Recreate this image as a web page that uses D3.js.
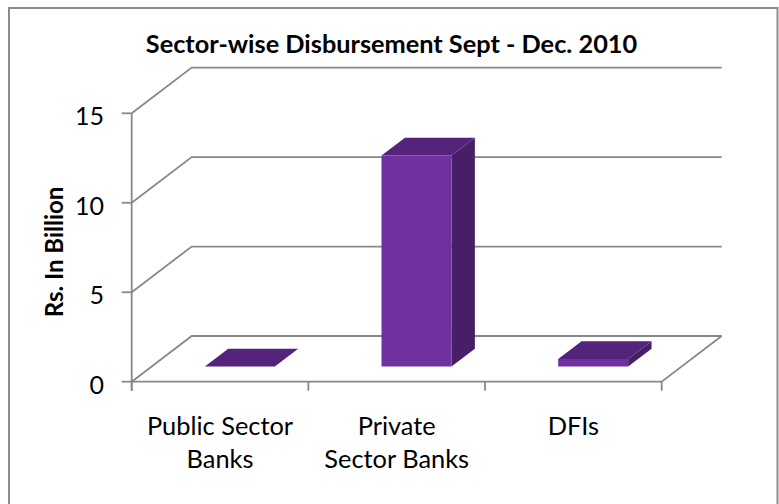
<!DOCTYPE html>
<html>
<head>
<meta charset="utf-8">
<script src="https://cdn.jsdelivr.net/npm/d3@7"></script>
<style>
  html, body { margin: 0; padding: 0; background: #fff; }
  svg { display: block; }
  text { font-family: Lato, "Noto Sans", sans-serif; fill: #000; }
</style>
</head>
<body>
<svg id="chart" width="779" height="504"></svg>
<script>
// Sector-wise disbursement, Sept - Dec. 2010 (Rs. in billion)
const categories = ["Public Sector Banks", "Private Sector Banks", "DFIs"];
const categoryLines = [["Public Sector", "Banks"], ["Private", "Sector Banks"], ["DFIs"]];
const values = [0, 11.8, 0.42];
const yTicks = [0, 5, 10, 15];
const chartTitle = "Sector-wise Disbursement Sept - Dec. 2010";
const yTitle = "Rs. In Billion";

const svg = d3.select("#chart");

// plot box: front-left-bottom corner, floor width, and depth vector of the 3-D box
const ox = 131.7, plotW = 530;
const depth = { dx: 60, dy: -45.7 };
const barDepth = [0.33, 0.72];   // bar front/back as fractions of the floor depth
const barWidthFrac = 0.396;

const x = d3.scaleBand().domain(categories).range([ox, ox + plotW]).padding(0);
const y = d3.scaleLinear().domain([0, 15]).range([381.7, 113.3]);

const gridColor = "#888888";

// chart frame
svg.append("rect")
  .attr("x", 9).attr("y", 8).attr("width", 768.5).attr("height", 520)
  .attr("fill", "none").attr("stroke", "#8c8c8c").attr("stroke-width", 2);

// title
svg.append("text")
  .attr("x", 391.5).attr("y", 53)
  .attr("text-anchor", "middle")
  .attr("font-weight", "bold")
  .attr("font-size", 25.3)
  .text(chartTitle);

// back-wall gridlines (each starts at the front axis, slants back, then runs across)
const line = d3.line();
svg.append("g").selectAll("path").data(yTicks).join("path")
  .attr("d", v => line([
    [ox, y(v)],
    [ox + depth.dx, y(v) + depth.dy],
    [ox + plotW + depth.dx, y(v) + depth.dy]
  ]))
  .attr("fill", "none").attr("stroke", gridColor).attr("stroke-width", 1.8);

// floor front and right edges
svg.append("path")
  .attr("d", line([
    [ox, y(0)],
    [ox + plotW, y(0)],
    [ox + plotW + depth.dx, y(0) + depth.dy]
  ]))
  .attr("fill", "none").attr("stroke", gridColor).attr("stroke-width", 1.8);

// value axis
const yAxis = svg.append("g");
yAxis.append("line")
  .attr("x1", ox).attr("x2", ox).attr("y1", y(15)).attr("y2", y(0) + 9)
  .attr("stroke", gridColor).attr("stroke-width", 1.8);
yAxis.selectAll("line.tick").data(yTicks).join("line")
  .attr("class", "tick")
  .attr("x1", ox - 10).attr("x2", ox)
  .attr("y1", d => y(d)).attr("y2", d => y(d))
  .attr("stroke", gridColor).attr("stroke-width", 1.8);
yAxis.selectAll("text").data(yTicks).join("text")
  .attr("x", 104).attr("y", d => y(d) + 2)
  .attr("text-anchor", "end")
  .attr("dominant-baseline", "central")
  .attr("font-size", 25)
  .text(d => d);

// category axis ticks
const catBounds = categories.map(c => x(c)).concat([ox + plotW]);
svg.append("g").selectAll("line").data(catBounds).join("line")
  .attr("x1", d => d).attr("x2", d => d)
  .attr("y1", y(0)).attr("y2", y(0) + 9)
  .attr("stroke", gridColor).attr("stroke-width", 1.8);

// category labels
const catG = svg.append("g").selectAll("text").data(categories).join("text")
  .attr("text-anchor", "middle")
  .attr("font-size", 25.4);
catG.each(function (c, i) {
  d3.select(this).selectAll("tspan").data(categoryLines[i]).join("tspan")
    .attr("x", x(c) + x.bandwidth() / 2)
    .attr("y", (d, j) => 435 + j * 33)
    .text(d => d);
});

// value-axis title
svg.append("text")
  .attr("transform", "translate(63,252) rotate(-90)")
  .attr("text-anchor", "middle")
  .attr("font-weight", "bold")
  .attr("font-size", 24)
  .text(yTitle);

// 3-D bars: side, top, front faces
const bars = categories.map((c, i) => {
  const bw = x.bandwidth() * barWidthFrac;
  const x0 = x(c) + (x.bandwidth() - bw) / 2;
  const f = barDepth[0], b = barDepth[1];
  const shift = t => [depth.dx * t, depth.dy * t];
  const [fx, fy] = shift(f), [bx, by] = shift(b);
  const yb = y(0), yt = y(values[i]);
  return {
    front: [[x0 + fx, yb + fy], [x0 + bw + fx, yb + fy], [x0 + bw + fx, yt + fy], [x0 + fx, yt + fy]],
    side: [[x0 + bw + fx, yb + fy], [x0 + bw + bx, yb + by], [x0 + bw + bx, yt + by], [x0 + bw + fx, yt + fy]],
    top: [[x0 + fx, yt + fy], [x0 + bw + fx, yt + fy], [x0 + bw + bx, yt + by], [x0 + bx, yt + by]]
  };
});
const poly = pts => "M" + pts.map(p => p.join(",")).join("L") + "Z";
const barG = svg.append("g").selectAll("g").data(bars).join("g");
barG.append("path").attr("d", d => poly(d.side)).attr("fill", "#471f66");
barG.append("path").attr("d", d => poly(d.top)).attr("fill", "#54237b");
barG.append("path").attr("d", d => poly(d.front)).attr("fill", "#7030a0");
</script>
</body>
</html>
